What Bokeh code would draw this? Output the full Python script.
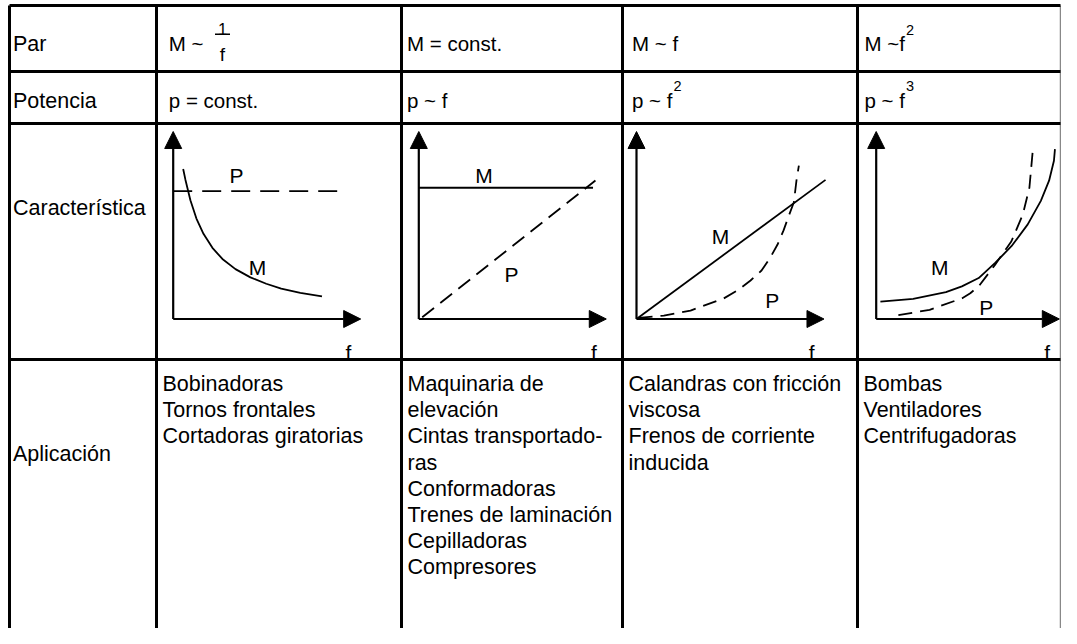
from bokeh.plotting import figure
from bokeh.models import Range1d, Arrow, NormalHead
from bokeh.core.properties import value
from bokeh.embed import file_html
from bokeh.resources import INLINE

# ---------------- data ----------------
row_labels = ["Par", "Potencia", "Característica", "Aplicación"]

torque_text = ["M ~", "M = const.", "M ~ f", "M ~f"]
torque_sup = ["", "", "", "2"]
frac_num = "1"
frac_den = "f"
power_text = ["p = const.", "p ~ f", "p ~ f", "p ~ f"]
power_sup = ["", "", "2", "3"]

applications = [
    ["Bobinadoras", "Tornos frontales", "Cortadoras giratorias"],
    ["Maquinaria de", "elevación", "Cintas transportado-", "ras", "Conformadoras",
     "Trenes de laminación", "Cepilladoras", "Compresores"],
    ["Calandras con fricción", "viscosa", "Frenos de corriente", "inducida"],
    ["Bombas", "Ventiladores", "Centrifugadoras"],
]

# characteristic curves, normalised units (f, value); arrow base = 1
M_f = [
    [0.058, 0.071, 0.100, 0.135, 0.176, 0.228, 0.286, 0.362, 0.449, 0.541, 0.628, 0.739, 0.865],
    [0.0, 1.013],
    [0.0, 1.099],
    [0.025, 0.220, 0.415, 0.510, 0.610, 0.708, 0.805, 0.902, 0.980, 1.029, 1.058, 1.064],
]
M_v = [
    [0.872, 0.810, 0.690, 0.584, 0.495, 0.414, 0.349, 0.290, 0.242, 0.205, 0.176, 0.152, 0.132],
    [0.763, 0.763],
    [0.0, 0.809],
    [0.101, 0.117, 0.156, 0.190, 0.238, 0.326, 0.423, 0.550, 0.687, 0.804, 0.920, 0.988],
]
P_f = [
    [0.0, 0.954],
    [0.02, 1.027],
    [0.012, 0.159, 0.314, 0.506, 0.587, 0.663, 0.727, 0.779, 0.820, 0.855, 0.884, 0.915, 0.930, 0.944],
    [0.132, 0.318, 0.512, 0.560, 0.610, 0.708, 0.805, 0.873, 0.912, 0.932],
]
P_v = [
    [0.744, 0.744],
    [0.010, 0.805],
    [0.007, 0.020, 0.049, 0.119, 0.166, 0.224, 0.282, 0.359, 0.433, 0.515, 0.596, 0.679, 0.805, 0.892],
    [0.023, 0.053, 0.121, 0.150, 0.190, 0.316, 0.452, 0.608, 0.764, 0.980],
]
# label positions (normalised units)
M_label = [(0.490, 0.299), (0.379, 0.834), (0.488, 0.480), (0.378, 0.298)]
P_label = [(0.368, 0.834), (0.539, 0.259), (0.789, 0.108), (0.655, 0.065)]

# ---------------- layout ----------------
W, H = 1061, 628
X0, Y0 = 0, 0                      # figure origin -> coordinates follow reference pixels
col_x = [9, 156, 401, 622, 857, 1060]
row_y = [5, 71, 123, 359]
UX = [172.0, 172.0, 172.0, 168.0]  # pixels per normalised unit in the small charts
UY = 172.0
origin_x = [172.7, 418.3, 636.0, 875.7]
origin_y = 318.5
DASHES = ["19 10", "15 8", "14 8", "14 8"]
INK = "#000000"
FONT = value("Liberation Sans")
FS = "21.5px"
FS_HEAD = 20.5

ADV = {"M": .833, "p": .556, " ": .278, "~": .584, "f": .278, "=": .584}

def text_width(s, size):
    return sum(ADV.get(c, .55) for c in s) * size

p = figure(width=W, height=H, x_range=Range1d(X0, X0 + W), y_range=Range1d(Y0 + H, Y0),
           output_backend="svg", toolbar_location=None, min_border=0,
           x_axis_location=None, y_axis_location=None)
p.grid.visible = False
p.outline_line_color = None
p.background_fill_color = "white"

# table grid
p.segment(x0=col_x[:-1], y0=[row_y[0]] * 5, x1=col_x[:-1], y1=[700] * 5, line_width=3, line_color=INK)
p.segment(x0=[col_x[-1]], y0=[row_y[0]], x1=[col_x[-1]], y1=[700], line_width=1.5, line_color="#888888")
p.segment(x0=[col_x[0]] * 4, y0=row_y, x1=[col_x[-1]] * 4, y1=row_y, line_width=3, line_color=INK)

def txt(xs, ys, texts, size=FS, align="left"):
    p.text(x=xs, y=ys, text=texts, text_font=FONT, text_font_size=size, text_color=INK,
           text_align=align, text_baseline="alphabetic")

# row labels
txt([12.5] * 4, [43.5, 100, 207.3, 453], row_labels)

# header rows
head_x = [168.3, 406.5, 631.5, 864]
head_fs = f"{FS_HEAD}px"
txt(head_x, [43] * 4, torque_text, size=head_fs)
sx = head_x[3] + text_width(torque_text[3], FS_HEAD) + 1
txt([sx], [29.5], [torque_sup[3]], size="14.5px")
txt([222], [28], [frac_num], size="16.5px", align="center")
txt([222], [53.5], [frac_den], size="19px", align="center")
p.segment(x0=[214.5], y0=[33.8], x1=[229.5], y1=[33.8], line_width=1.4, line_color=INK)

txt(head_x, [100] * 4, power_text, size=head_fs)
sx2 = [head_x[j] + text_width(power_text[j], FS_HEAD) + 1 for j in (2, 3)]
txt(sx2, [85.5, 85.5], [power_sup[2], power_sup[3]], size="14.5px")

# applications
for j, lines in enumerate(applications):
    xs = [col_x[j + 1] + 6] * len(lines)
    ys = [383.7 + 26.1 * k for k in range(len(lines))]
    txt(xs, ys, lines)

# small characteristic charts
for i in range(4):
    xr, yr = f"cx{i}", f"cy{i}"
    ox = origin_x[i]
    p.extra_x_ranges[xr] = Range1d((X0 - ox) / UX[i], (X0 + W - ox) / UX[i])
    p.extra_y_ranges[yr] = Range1d((origin_y - (Y0 + H)) / UY, (origin_y - Y0) / UY)

    for (xe, ye) in [(0, 1.09), (1.09, 0)]:
        p.add_layout(Arrow(end=NormalHead(size=17, fill_color=INK, line_color=INK, line_width=1),
                           x_start=0, y_start=0, x_end=xe, y_end=ye,
                           line_width=2.2, line_color=INK, x_range_name=xr, y_range_name=yr))

    p.line(M_f[i], M_v[i], line_width=1.8, line_color=INK, x_range_name=xr, y_range_name=yr)
    p.line(P_f[i], P_v[i], line_width=1.8, line_color=INK, line_dash=DASHES[i],
           x_range_name=xr, y_range_name=yr)

    p.text(x=[M_label[i][0], P_label[i][0], 1.018], y=[M_label[i][1], P_label[i][1], -0.197],
           text=["M", "P", "f"], text_font=FONT, text_font_size="21px", text_color=INK,
           text_align="center", text_baseline="alphabetic", x_range_name=xr, y_range_name=yr)

open("out.html", "w").write(file_html(p, INLINE))
